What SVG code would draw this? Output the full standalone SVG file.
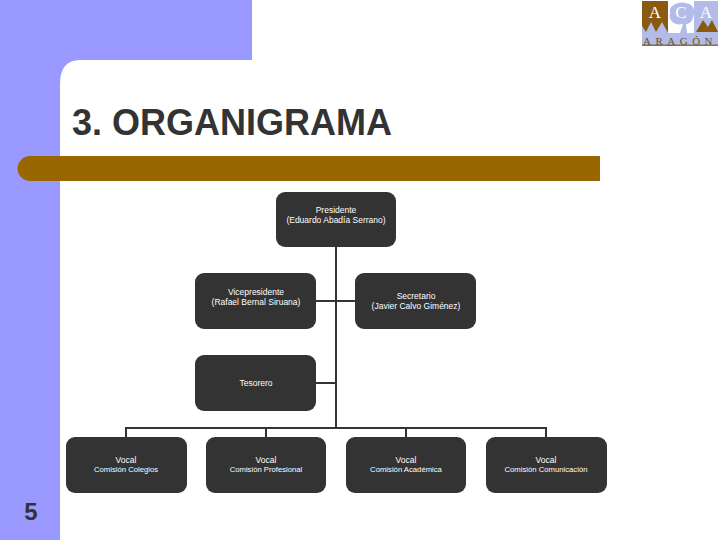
<svg xmlns="http://www.w3.org/2000/svg" width="720" height="540" viewBox="0 0 720 540">
<style>
.box{fill:#333333}
.t{font-family:"Liberation Sans",Arial,sans-serif;font-size:8.5px;fill:#ffffff;text-anchor:middle}
.s{font-size:7.7px}
.c{fill:none;stroke:#333333;stroke-width:2}
</style>
<rect width="720" height="540" fill="#ffffff"/>
<path d="M0 0H252V60H80Q60 60 60 84V540H0Z" fill="#9999ff"/>
<path d="M30 156H600V181H30A12.500 12.500 0 0 1 30 156Z" fill="#996600"/>
<text x="72" y="135" font-family="'Liberation Sans',Arial,sans-serif" font-size="36" font-weight="700" fill="#333333">3. ORGANIGRAMA</text>
<text x="31" y="520" font-family="'Liberation Sans',Arial,sans-serif" font-size="24" font-weight="700" fill="#333333" text-anchor="middle">5</text>
<g id="logo">
<rect x="642" y="1" width="76" height="45" fill="#b3bce8"/>
<rect x="668" y="1" width="26" height="32" fill="#ffffff"/>
<path d="M642 1H668V33L662 22 656 32 651 22 646 32 642 26Z" fill="#8a5a10"/>
<path d="M680 33L683 24C674 26 668 20 670 13 668 6 678 1 686 3 694 4 696 12 693 17 692 23 688 24 686 24L687 33Z" fill="#b3bce8"/>
<path d="M696 32L703 20 708 27 712 20 718 32Z" fill="#8a5a10"/>
<rect x="642" y="44.500" width="76" height="1.500" fill="#8a7040"/>
<g font-family="'Liberation Serif',serif" text-anchor="middle">
<text x="655" y="18" font-size="17" fill="#ffffff">A</text>
<text x="681" y="18" font-size="17" fill="#ffffff">C</text>
<text x="706" y="18" font-size="17" fill="#ffffff">A</text>
<text x="680" y="45" font-size="11" letter-spacing="4.500" fill="#6b5020">ARAGÓN</text>
</g>
</g>
<g id="connectors">
<path class="c" d="M336 247V428M316 301H355M316 383H336M126 437V428H546V437M266 428V437M406 428V437"/>
</g>
<g id="presidente"><rect class="box" x="276" y="192" width="120" height="55" rx="9"/><text class="t" x="336" y="213">Presidente</text><text class="t" x="336" y="223">(Eduardo Abadía Serrano)</text></g>
<g id="vicepresidente"><rect class="box" x="195" y="273" width="121" height="56" rx="9"/><text class="t" x="256" y="295">Vicepresidente</text><text class="t" x="256" y="305">(Rafael Bernal Siruana)</text></g>
<g id="secretario"><rect class="box" x="355" y="273" width="121" height="56" rx="9"/><text class="t" x="416" y="299">Secretario</text><text class="t" x="416" y="309">(Javier Calvo Giménez)</text></g>
<g id="tesorero"><rect class="box" x="195" y="355" width="121" height="56" rx="9"/><text class="t" x="256" y="386">Tesorero</text></g>
<g id="vocal1"><rect class="box" x="66" y="437" width="121" height="56" rx="9"/><text class="t" x="126" y="463">Vocal</text><text class="t s" x="126" y="472">Comisión Colegios</text></g>
<g id="vocal2"><rect class="box" x="206" y="437" width="120" height="56" rx="9"/><text class="t" x="266" y="463">Vocal</text><text class="t s" x="266" y="472">Comisión Profesional</text></g>
<g id="vocal3"><rect class="box" x="346" y="437" width="120" height="56" rx="9"/><text class="t" x="406" y="463">Vocal</text><text class="t s" x="406" y="472">Comisión Académica</text></g>
<g id="vocal4"><rect class="box" x="486" y="437" width="121" height="56" rx="9"/><text class="t" x="546" y="463">Vocal</text><text class="t s" x="546" y="472">Comisión Comunicación</text></g>
</svg>
